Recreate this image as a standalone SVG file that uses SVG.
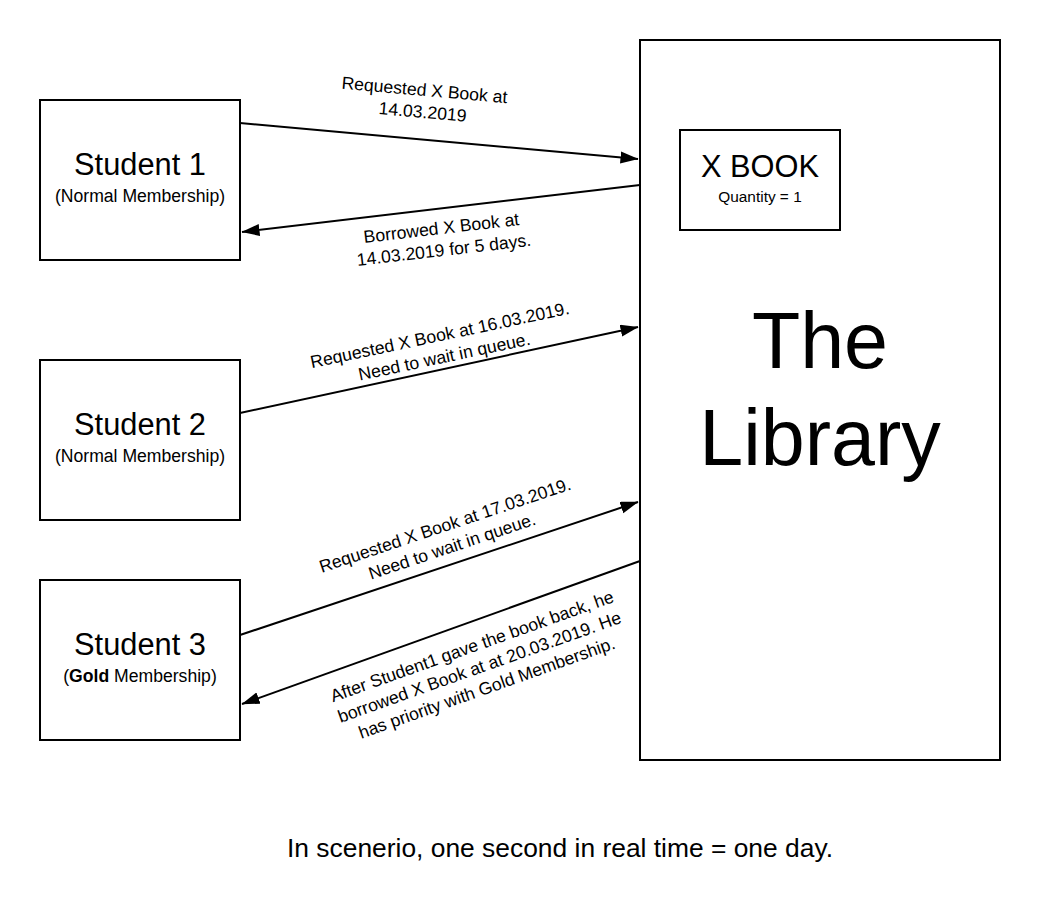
<svg xmlns="http://www.w3.org/2000/svg" width="1040" height="923" viewBox="0 0 1040 923">
<style>
.box{fill:#fff;stroke:#000;stroke-width:2}
text{font-family:"Liberation Sans",Arial,sans-serif;fill:#000}
.title{font-size:30.8px;text-anchor:middle}
.sub{font-size:17.6px;text-anchor:middle}
.lbl{font-size:17.6px;text-anchor:middle}
.conn{stroke:#000;stroke-width:2;fill:none;marker-end:url(#arrow)}
</style>
<defs>
<marker id="arrow" markerUnits="userSpaceOnUse" markerWidth="19" markerHeight="13" refX="17.5" refY="6" orient="auto">
<path d="M0,0 L18,6 L0,12 z" fill="#000"/>
</marker>
</defs>
<rect width="1040" height="923" fill="#fff"/>
<g id="library">
<rect class="box" x="640" y="40" width="360" height="720"/>
<text x="820" y="368" font-size="79" text-anchor="middle">The</text>
<text x="820" y="465" font-size="79" text-anchor="middle">Library</text>
</g>
<g id="xbook">
<rect class="box" x="680" y="130" width="160" height="100"/>
<text class="title" x="760" y="177">X BOOK</text>
<text x="760" y="202" font-size="15.4" text-anchor="middle">Quantity = 1</text>
</g>
<g id="student1">
<rect class="box" x="40" y="100" width="200" height="160"/>
<text class="title" x="140" y="175">Student 1</text>
<text class="sub" x="140" y="202">(Normal Membership)</text>
</g>
<g id="student2">
<rect class="box" x="40" y="360" width="200" height="160"/>
<text class="title" x="140" y="435">Student 2</text>
<text class="sub" x="140" y="462">(Normal Membership)</text>
</g>
<g id="student3">
<rect class="box" x="40" y="580" width="200" height="160"/>
<text class="title" x="140" y="655">Student 3</text>
<text class="sub" x="140" y="682">(<tspan font-weight="bold">Gold</tspan> Membership)</text>
</g>
<g id="connectors">
<line class="conn" x1="240" y1="123" x2="638" y2="159"/>
<line class="conn" x1="640" y1="185" x2="242" y2="232"/>
<line class="conn" x1="240" y1="413" x2="638" y2="327"/>
<line class="conn" x1="240" y1="635" x2="638" y2="502"/>
<line class="conn" x1="640" y1="561" x2="242" y2="704"/>
<g transform="translate(424,96) rotate(5)">
<text class="lbl" x="0" y="0">Requested X Book at</text>
<text class="lbl" x="0" y="22">14.03.2019</text>
</g>
<g transform="translate(442,234) rotate(-6.6)">
<text class="lbl" x="0" y="0">Borrowed X Book at</text>
<text class="lbl" x="0" y="22">14.03.2019 for 5 days.</text>
</g>
<g transform="translate(441,341) rotate(-11.9)">
<text class="lbl" x="0" y="0">Requested X Book at 16.03.2019.</text>
<text class="lbl" x="0" y="22">Need to wait in queue.</text>
</g>
<g transform="translate(447,531) rotate(-18.5)">
<text class="lbl" x="0" y="0">Requested X Book at 17.03.2019.</text>
<text class="lbl" x="0" y="22">Need to wait in queue.</text>
</g>
<g transform="translate(474,652) rotate(-19.6)">
<text class="lbl" x="0" y="0">After Student1 gave the book back, he</text>
<text class="lbl" x="0" y="22">borrowed X Book at at 20.03.2019. He</text>
<text class="lbl" x="0" y="44">has priority with Gold Membership.</text>
</g>
</g>
<text x="560" y="857" font-size="26.4" text-anchor="middle">In scenerio, one second in real time = one day.</text>
</svg>
